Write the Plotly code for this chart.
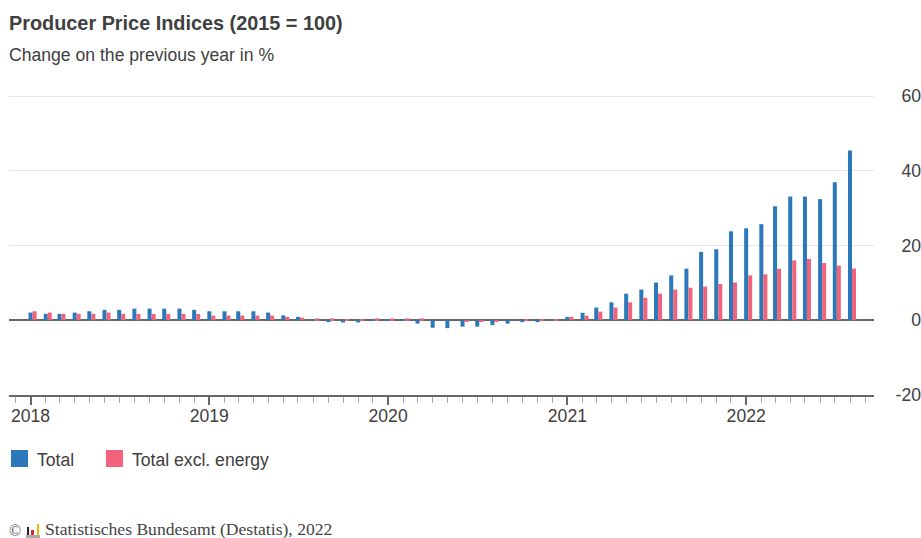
import plotly.graph_objects as go
import pandas as pd

months = pd.date_range("2018-01-01", "2022-08-01", freq="MS").strftime("%Y-%m-%d").tolist()
total = [2.05,1.7,1.7,2.05,2.4,2.8,2.8,3.1,3.1,3.1,3.1,2.8,
         2.4,2.4,2.4,2.4,2.05,1.3,0.9,0.3,-0.5,-0.6,-0.6,0.1,
         0.2,0.1,-0.9,-2.0,-2.1,-1.7,-1.7,-1.3,-0.9,-0.5,-0.5,0.1,
         0.9,2.0,3.4,4.8,7.1,8.2,10.1,12.0,13.8,18.3,19.0,23.8,
         24.6,25.7,30.5,33.1,33.1,32.4,36.9,45.4]
excl = [2.4,2.05,1.7,1.7,1.7,2.05,1.7,1.7,1.7,1.7,1.7,1.7,
        1.25,1.25,1.25,1.25,1.25,0.9,0.7,0.5,0.5,0.2,0.2,0.5,
        0.5,0.5,0.5,0.0,0.0,-0.3,-0.3,-0.3,0.0,0.1,0.2,0.2,
        0.9,1.2,2.3,3.4,4.8,6.0,7.1,8.2,8.7,9.0,9.7,10.1,
        12.0,12.3,13.8,16.0,16.4,15.3,14.6,13.8]
series_names = ["Total", "Total excl. energy"]
y_ticks = [-20, 0, 20, 40, 60]
y_labels = ["-20", "0", "20", "40", "60"]
year_ticks = ["2018-01-01", "2019-01-01", "2020-01-01", "2021-01-01", "2022-01-01"]
year_labels = ["2018", "2019", "2020", "2021", "2022"]

BLUE = "#2b78ba"
RED = "#f0637b"
INK = "#404040"
FONT = "Liberation Sans, Arial, sans-serif"
DAY = 86400000
W, H = 921, 538
L, R, T, B = 9, 921, 90, 395
Y_TOP = 60 + (96 - T) / ((B - 96) / 80)

fig = go.Figure()
bw = 8.2 * DAY
fig.add_bar(x=months, y=total, name=series_names[0], marker=dict(color=BLUE, line_width=0),
            width=bw, offset=-bw / 2, showlegend=False)
fig.add_bar(x=months, y=excl, name=series_names[1], marker=dict(color=RED, line_width=0),
            width=bw, offset=bw / 2, showlegend=False)

fig.update_layout(
    width=W, height=H, margin=dict(l=L, r=W - R, t=T, b=H - B, pad=0, autoexpand=False),
    plot_bgcolor="white", paper_bgcolor="white", barmode="overlay",
    font=dict(family=FONT, size=17.6, color=INK), showlegend=False,
    xaxis=dict(type="date", domain=[0, (874 - L) / (R - L)],
               range=["2017-11-18", "2022-09-19"], tickmode="array",
               tickvals=year_ticks, ticktext=year_labels, ticks="outside", ticklen=8,
               tickwidth=1.5, tickcolor="#666666", showgrid=False, showline=True,
               linecolor="#666666", linewidth=1.5, zeroline=False,
               tickfont=dict(size=17.6, color=INK), ticklabelstandoff=-4,
               minor=dict(dtick="M1", tick0="2018-01-01", ticks="outside", ticklen=6,
                          tickwidth=1, tickcolor="#aaaaaa", showgrid=False)),
    yaxis=dict(range=[-20, Y_TOP], tickmode="array", tickvals=y_ticks, ticktext=y_labels,
               anchor="free", position=1, side="left",
               showgrid=True, gridcolor="#e6e6e6", gridwidth=1, zeroline=True,
               zerolinecolor="#666666", zerolinewidth=2, ticks="", showline=False,
               tickfont=dict(size=17.6, color=INK), automargin=False, hoverformat=".1f"),
)

def text(x, y, s, size=17.6, family=FONT, color=INK):
    fig.add_annotation(xref="paper", yref="paper", x=(x - L) / (R - L), y=(B - y) / (B - T),
                       text=s, showarrow=False, xanchor="left", yanchor="middle",
                       font=dict(size=size, family=family, color=color), align="left",
                       borderpad=0, borderwidth=0)

def box(x0, y0, x1, y1, color):
    fig.add_shape(type="rect", xref="paper", yref="paper", layer="above",
                  x0=(x0 - L) / (R - L), x1=(x1 - L) / (R - L),
                  y0=(B - y0) / (B - T), y1=(B - y1) / (B - T),
                  fillcolor=color, line_width=0)

text(9, 23, "<b>Producer Price Indices (2015 = 100)</b>", size=19.85)
text(9, 55, "Change on the previous year in %")

box(11, 450, 28, 467, BLUE)
text(37, 459.5, series_names[0])
box(106, 450, 123, 467, RED)
text(132, 459.5, series_names[1])

serif = "Liberation Serif, Times New Roman, serif"
text(9, 530, "©", size=16, family=serif, color="#555555")
box(27, 527, 29, 535, "#222222")
box(31, 530, 34, 535, "#d8263a")
box(37, 524, 39, 535, "#f4b400")
box(26, 535, 40, 538, "#aaaaaa")
text(45, 529, "Statistisches Bundesamt (Destatis), 2022", size=17.6, family=serif, color="#444444")

fig.write_html("out.html", post_script="document.body.style.margin='0';",
               config=dict(displayModeBar=False))
